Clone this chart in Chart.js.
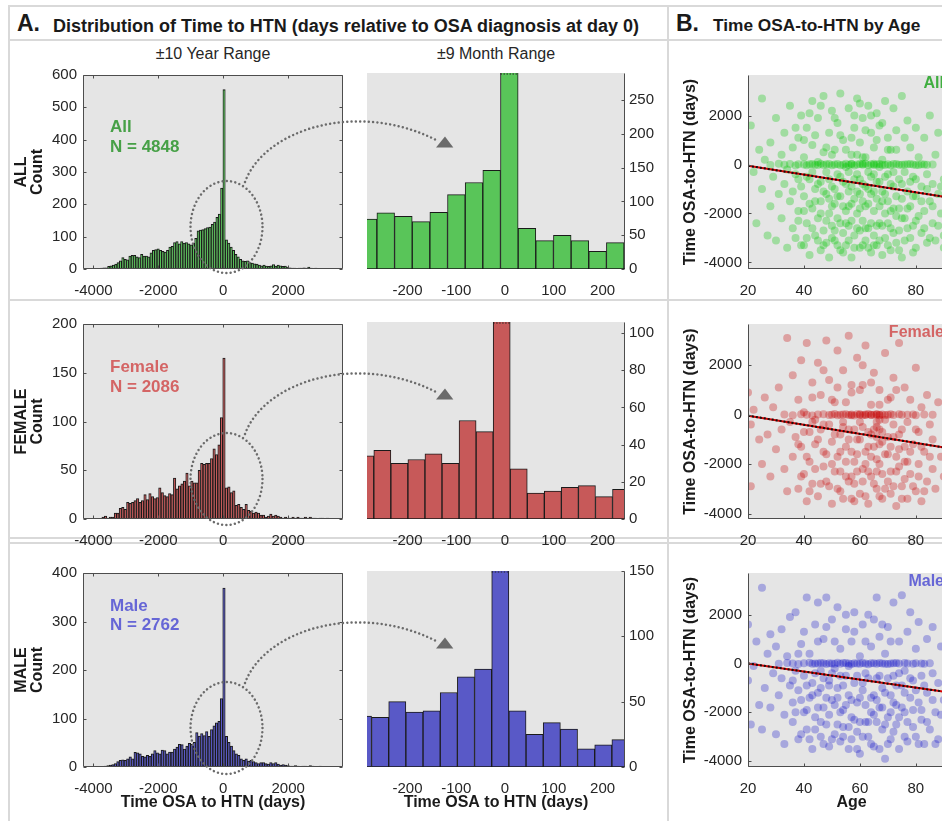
<!DOCTYPE html>
<html>
<head>
<meta charset="utf-8">
<title>Time to HTN</title>
<script src="https://cdn.jsdelivr.net/npm/chart.js@4.4.1/dist/chart.umd.min.js"></script>
<style>
  html, body { margin: 0; padding: 0; overflow: hidden; background: #fff; }
  body { width: 942px; height: 821px; position: relative; font-family: "Liberation Sans", Arial, sans-serif; color: #1a1a1a; }
  .ln { position: absolute; background: #d9d9d9; }
  .txt { position: absolute; white-space: nowrap; line-height: 1; }
  canvas { position: absolute; }
</style>
</head>
<body>
<!-- panel frames -->
<div class="ln" style="left:8px;top:5px;width:934px;height:2px"></div>
<div class="ln" style="left:8px;top:5px;width:2px;height:816px"></div>
<div class="ln" style="left:8px;top:39px;width:934px;height:2px"></div>
<div class="ln" style="left:667px;top:5px;width:2px;height:816px"></div>
<div class="ln" style="left:8px;top:299px;width:934px;height:2px"></div>
<div class="ln" style="left:8px;top:537px;width:934px;height:2px"></div>
<div class="ln" style="left:8px;top:542px;width:934px;height:2px"></div>

<div class="txt" style="left:17px;top:12px;font-size:23px;font-weight:bold">A.</div>
<div class="txt" style="left:53px;top:16.5px;font-size:18px;font-weight:bold">Distribution of Time to HTN (days relative to OSA diagnosis at day 0)</div>
<div class="txt" style="left:676px;top:12px;font-size:23px;font-weight:bold">B.</div>
<div class="txt" style="left:713px;top:17px;font-size:17.3px;font-weight:bold">Time OSA-to-HTN by Age</div>
<div class="txt" style="left:113px;top:46px;width:200px;text-align:center;font-size:16px;color:#262626">±10 Year Range</div>
<div class="txt" style="left:396px;top:46px;width:200px;text-align:center;font-size:16px;color:#262626">±9 Month Range</div>

<canvas id="wideAll"></canvas>
<canvas id="wideFem"></canvas>
<canvas id="wideMale"></canvas>
<canvas id="midAll"></canvas>
<canvas id="midFem"></canvas>
<canvas id="midMale"></canvas>
<canvas id="scAll"></canvas>
<canvas id="scFem"></canvas>
<canvas id="scMale"></canvas>
<canvas id="deco" style="z-index:5;pointer-events:none"></canvas>

<script>
// ---------- data ----------
// ±10 year histograms (bin counts, left to right)
const wideAllStart = -3997.5, wideAllWidth = 72.5;
const wideAll = [1,1,2,3,4,4,8,10,12,15, 20,25,35,30,28,40,42,42,38,35, 45,40,40,38,50,58,60,62,58,55,
  52,58,68,70,82,85,78,85,80,82, 78,75,80,95,118,120,122,125,128,130, 138,145,160,170,250,
  555,
  90,80,68,58,45,38,30,25,24,25, 20,18,16,15,12,10,12,9,8,10, 14,9,12,10,8,9,6,4,3,3,
  2,3,3,4,3,6,3,2,3,2, 2,1,2,1,1,1,0,1];

const wideFemStart = -3739, wideFemWidth = 76;
const wideFem = [2,3,1,2,2,6,6,11,12,10, 17,16,17,19,21,17,19,25,20,26, 23,21,22,32,27,24,23,26,25,42,
  31,34,36,39,47,34,39,37,37,50, 57,56,57,57,62,72,66,76,104,
  165,
  32,33,27,29,14,15,12,10,15,9, 8,6,7,6,4,4,2,3,5,3, 4,3,2,1,2,1,1,2,1,2, 1,1,2,1,2,1,1,0,1,1,0,1];

const wideMaleStart = -3815, wideMaleWidth = 76;
const wideMale = [1,1,2,3,4,5,7,11,14,15, 14,17,21,17,30,29,27,22,21,24, 22,27,34,29,27,35,34,27,31,31,
  37,41,47,46,37,43,49,47,51,71, 64,69,65,73,63,77,85,91,94,141,
  369,
  63,51,43,34,27,24,17,14,17,12, 14,11,9,7,9,9,7,6,9,7, 9,6,4,5,4,3,2,2,3,2, 1,2,2,1,3,2,1,1,2,1, 1,1,0,1];

// ±9 month histograms
const midAllStart = -298.9, midAllWidth = 36.2;
const midAll = [74,83,78,70,84,110,128,146,480,60,42,50,42,26,39,32];
const midFemStart = -304, midFemWidth = 34.96;
const midFem = [34,37,30,32,35,30,53,47,140,27,14,15,17,18,12,16];
const midMaleStart = -308.9, midMaleWidth = 35.2;
const midMale = [39,38,50,42,43,57,69,75,300,43,25,34,29,14,17,21];

// tick labels
const wideTicksX = [-4000, -2000, 0, 2000];
const midTicksX = [-200, -100, 0, 100, 200];
const wideAllTicksY = [0, 100, 200, 300, 400, 500, 600];
const wideFemTicksY = [0, 50, 100, 150, 200];
const wideMaleTicksY = [0, 100, 200, 300, 400];
const midAllTicksY = [0, 50, 100, 150, 200, 250];
const midFemTicksY = [0, 20, 40, 60, 80, 100];
const midMaleTicksY = [0, 50, 100, 150];
const ageTicks = [20, 40, 60, 80];
const daysTicks = [-4000, -2000, 0, 2000];

// age vs days (scatter) and fitted line end points
const scatterAll = [[21,1600],[22,-300],[23,-2400],[24,600],[25,2700],[25,-1000],[26,200],[27,-2900],[28,-1700],[28,900],
  [29,-500],[30,1900],[30,-3100],[31,-1200],[32,400],[32,-2200],[33,-800],[33,1300],[34,-3400],[34,-200],
  [35,2400],[35,-1500],[36,-2600],[36,700],[37,-400],[37,-3000],[38,1100],[38,-1900],[39,-900],[39,2000],
  [40,-3300],[40,-1300],[40,300],[41,-2400],[41,1500],[42,-600],[42,-3700],[43,-1800],[43,800],[43,2600],
  [44,-2900],[44,-1000],[45,100],[45,-2200],[45,1900],[46,-3500],[46,-700],[46,-1500],[47,2800],[47,-2700],
  [47,500],[48,-1200],[48,-3200],[48,-300],[49,1300],[49,-2000],[49,-3800],[50,-900],[50,2200],[50,-2500],
  [51,-1600],[51,600],[51,-3100],[52,-400],[52,1700],[52,-2200],[53,-1300],[53,-3500],[53,2900],[54,-700],
  [54,-2800],[54,1000],[55,-1900],[55,-100],[55,-3300],[56,2300],[56,-1100],[56,-2500],[57,400],[57,-3800],
  [57,-1600],[58,1500],[58,-600],[58,-2900],[59,-2000],[59,2700],[59,-400],[60,-3400],[60,-1200],[60,900],
  [61,-2300],[61,1900],[61,-800],[62,-3100],[62,-1700],[62,300],[63,2400],[63,-2600],[63,-1000],[64,-3600],
  [64,-500],[64,1300],[65,-1900],[65,-2900],[65,700],[66,-1400],[66,2100],[66,-3300],[67,-700],[67,-2400],
  [67,1600],[68,-3700],[68,-1100],[68,200],[69,-2000],[69,2600],[69,-3000],[70,-1500],[70,-400],[70,1100],
  [71,-2600],[71,-3500],[71,600],[72,-1800],[72,2300],[72,-900],[73,-3200],[73,-2100],[73,1400],[74,-600],
  [74,-2700],[75,2800],[75,-1400],[75,-3800],[76,-300],[76,-2200],[77,1800],[77,-1100],[78,-3000],[78,-1700],
  [78,700],[79,-2500],[79,-500],[80,1500],[80,-3400],[80,-1300],[81,-2100],[81,300],[82,-2800],[82,-900],
  [83,1100],[83,-1900],[84,-3200],[84,-400],[85,-1500],[85,2000],[86,-2400],[86,-800],[87,-3100],[87,400],
  [88,-1200],[88,1300],[89,-2000],[90,-600],[90,-2900],[91,800],[92,-1700],[93,-300],
  [36,-1100],[37,1500],[38,-2300],[38,-600],[39,-3300],[40,-1900],[40,1000],[41,-500],[41,-3000],[42,-1600],
  [42,2100],[43,-2600],[43,-300],[44,-1500],[44,1200],[45,-3100],[45,-800],[46,-2000],[46,2400],[47,-1100],
  [47,-3300],[48,-2300],[48,700],[49,-1400],[49,-600],[50,-3000],[50,-1700],[50,400],[51,-2700],[51,-1000],
  [51,1900],[52,-3300],[52,-1300],[53,-2400],[53,-500],[53,1200],[54,-1700],[54,-3600],[55,-2400],[55,600],
  [55,-800],[56,-3100],[56,-1700],[56,-300],[57,-2300],[57,1100],[57,-900],[58,-3400],[58,-1400],[58,2000],
  [59,-2600],[59,-1100],[59,400],[60,-2700],[60,-1800],[60,-600],[60,2500],[61,-3300],[61,-1500],[61,300],
  [62,-2600],[62,-900],[62,1400],[63,-3400],[63,-1600],[63,-300],[64,-2400],[64,-1200],[64,2000],[65,-3300],
  [65,-1100],[65,-400],[66,-2500],[66,-700],[66,1000],[67,-3100],[67,-1700],[67,-100],[68,-2500],[68,-1500],
  [68,1700],[69,-1200],[69,-500],[70,-3300],[70,-2400],[70,600],[71,-1900],[71,-800],[72,-2800],[72,-300],
  [73,-1300],[73,600],[74,-3500],[74,-1800],[75,-2200],[75,-800],[76,-3100],[76,1100],[77,-2600],[77,-1800],
  [78,-700],[79,-3600],[79,-1300],[80,-2300],[80,-600],[82,-1500],[83,-2600],[84,-1000],[85,-3000],[86,-1700],
  [88,-2500],[89,-900],[90,-3400],[91,-1300],
  [28,-20],[31,30],[33,-10],[35,20],[37,-40],[38,10],[40,0],[41,-30],[43,20],[44,-10],[46,30],[47,-20],
  [48,10],[50,-30],[51,0],[52,20],[54,-10],[55,30],[56,-20],[57,10],[58,-40],[59,0],[60,20],[61,-10],
  [62,30],[63,-30],[64,10],[65,-20],[66,0],[67,20],[68,-10],[70,10],[71,-30],[73,20],[74,-10],[76,0],
  [78,20],[80,-20],[82,10],[84,-10],[86,0],[42,10],[45,-20],[49,20],[53,-30],[57,30],[61,20],[65,30],
  [69,-20],[72,20],[75,-10],[77,10],[79,0],[81,-20],[83,0]];
const fitAll = [[20, -50], [94, -1390]];

const scatterFem = [[20,900],[21,-400],[21,-2900],[22,200],[24,-1000],[25,-2000],[26,700],[27,-800],[28,-2500],[29,300],
  [30,-1400],[31,1100],[32,-600],[33,-2200],[34,3100],[34,-3100],[35,-300],[36,1600],[36,-1700],[37,-900],
  [38,-3000],[38,600],[39,2200],[39,-1300],[40,-2400],[40,100],[41,-3500],[41,2900],[42,-700],[42,-1900],
  [43,1300],[43,-2800],[44,-200],[44,-1200],[45,2100],[45,-3300],[46,-600],[46,800],[47,-2100],[47,-1500],
  [48,3000],[48,-2700],[49,-400],[49,1400],[50,-3600],[50,-1100],[51,500],[51,-2300],[52,2600],[52,-1700],
  [53,-800],[53,-3100],[54,1800],[54,-300],[55,-2500],[55,-1300],[56,3200],[56,-600],[57,-3400],[57,900],
  [58,-1900],[58,-2800],[59,2300],[59,-1000],[60,-300],[60,-3200],[61,1200],[61,-2200],[62,-1500],[62,2800],
  [63,-700],[63,-3600],[64,400],[64,-2500],[65,-1300],[65,1700],[66,-3000],[66,-500],[67,1000],[67,-2000],
  [68,-3400],[68,-1100],[69,2500],[69,-200],[70,-2700],[70,-1600],[71,700],[71,-3200],[72,-900],[72,1500],
  [73,-2300],[73,-3700],[74,2900],[74,-1400],[75,-600],[75,-2900],[76,1100],[76,-1900],[77,-3400],[77,-300],
  [78,600],[78,-2400],[79,-1200],[80,-3100],[80,1900],[81,-700],[81,-2000],[82,300],[82,-3500],[83,-1500],
  [84,-2700],[84,800],[85,-400],[86,-2200],[86,-1000],[87,-3000],[88,500],[89,-1700],[90,-2500],[91,-600],[93,-1900],
  [38,-1200],[39,-2500],[40,-700],[41,-1700],[42,-3100],[43,-300],[44,-2200],[45,-1000],[46,-2800],[47,-400],
  [48,-1600],[49,-2900],[50,-2000],[50,600],[51,-800],[52,-3000],[53,-1500],[53,-2300],[54,-500],[54,-3400],
  [55,-1900],[55,500],[56,-2700],[56,-1000],[57,-1500],[57,-2500],[58,-600],[58,-3500],[59,-1600],[59,-2300],
  [60,-1000],[60,1000],[61,-2700],[61,-500],[62,-2000],[62,-3300],[63,-1300],[63,-2300],[64,-800],[64,-1700],
  [65,-2800],[65,-600],[66,-1800],[66,-2300],[67,-1200],[67,-3300],[68,-700],[68,-2400],[69,-1600],[69,-3000],
  [70,-900],[70,600],[71,-2300],[71,-1300],[72,-2900],[72,-400],[73,-1700],[74,-2100],[74,-800],[75,-3400],
  [76,-1300],[76,-2600],[77,-1900],[78,-1500],[79,-2900],[80,-600],[81,-2500],[82,-1300],[83,-3100],[85,-1700],
  [57,1200],[61,2000],[64,1300],[52,1100],[47,1800],[43,700],[67,400],[73,1000],
  [33,10],[36,-20],[39,20],[41,0],[43,-30],[45,10],[47,20],[49,-10],[51,30],[52,-20],[53,0],[55,20],
  [56,-10],[57,10],[58,-30],[59,20],[60,0],[61,-20],[62,10],[63,30],[64,-10],[65,0],[66,20],[67,-20],
  [68,10],[70,0],[72,-10],[74,20],[77,0],[80,-20],[83,10],[86,0],[66,-300],[67,-600],[66,-900],[67,-200],
  [50,0],[54,10],[57,-20],[60,20],[62,-10],[64,0],[66,10],[67,0],[69,-10],[71,20],[75,0],[79,10]];
const fitFem = [[20, -40], [94, -1400]];

const scatterMale = [[20,1600],[20,-700],[21,-2500],[22,-100],[23,900],[24,-1700],[25,3100],[25,-2700],[26,-1000],[27,400],
  [28,-1800],[28,1200],[29,-400],[30,-2900],[30,700],[31,-1300],[32,-600],[32,1400],[33,-2100],[33,-3300],
  [34,300],[35,-900],[35,1900],[36,-2400],[36,-1600],[37,2100],[37,-300],[38,-3100],[38,-1100],[39,800],
  [40,-2000],[40,-500],[41,2700],[41,-2700],[42,-1400],[42,400],[43,-3500],[43,-800],[44,1600],[44,-2200],
  [45,-1200],[45,2500],[46,-3000],[46,-300],[47,1000],[47,-1800],[48,2700],[48,-2500],[49,-700],[49,-3400],
  [50,1800],[50,-1500],[51,-200],[51,-2900],[52,2300],[52,-1000],[53,-3200],[53,600],[54,-1900],[54,-2600],
  [55,1400],[55,-500],[56,-3500],[56,-1300],[57,900],[57,-2200],[58,2100],[58,-800],[59,-2800],[59,-1600],
  [60,300],[60,-3700],[61,1600],[61,-1100],[62,-2400],[62,-400],[63,2000],[63,-3000],[64,-1400],[64,700],
  [65,-2100],[65,-3400],[66,2700],[66,-600],[67,-1800],[67,1100],[68,-2700],[68,-1000],[69,-3900],[69,400],
  [70,-2200],[70,1500],[71,-1300],[71,-3100],[72,-500],[72,2500],[73,-2500],[73,-1700],[74,900],[74,-3500],
  [75,-900],[75,2800],[76,-2000],[76,-300],[77,1300],[77,-3200],[78,-1400],[78,2100],[79,-2600],[79,-700],
  [80,600],[80,-3000],[81,-1600],[81,1700],[82,-2300],[82,-500],[83,-3300],[84,1000],[84,-1200],[85,-2700],
  [86,-400],[86,1500],[87,-2000],[88,-3100],[88,-800],[89,700],[90,-1500],[91,-2400],[92,-200],[93,-1100],
  [36,-700],[37,-2000],[38,400],[39,-1500],[39,-2900],[40,1300],[41,-900],[41,-1900],[42,-3100],[43,-1300],
  [44,-400],[44,-2700],[45,900],[45,-1800],[46,-1000],[46,-2400],[47,-3300],[47,-600],[48,-1400],[48,1500],
  [49,-2100],[49,-900],[50,-3100],[50,-400],[51,-1700],[51,900],[52,-2500],[52,-1400],[53,-500],[53,-2000],
  [54,-3000],[54,-900],[55,-1700],[55,2000],[56,-2600],[56,-100],[57,-1500],[57,-3100],[58,-2300],[58,1300],
  [59,-500],[59,-3500],[60,-1400],[60,-2400],[61,-800],[61,-3000],[62,-1700],[62,900],[63,-2400],[63,-600],
  [64,-3300],[64,-2000],[65,-1300],[65,1800],[66,-2400],[66,-1500],[67,-500],[67,-3500],[68,-1800],[68,1600],
  [69,-2500],[69,-1200],[70,-600],[70,-3300],[71,-2000],[71,900],[72,-1600],[72,-2800],[73,-900],[74,-2200],
  [74,-400],[75,-1800],[76,-3000],[76,-1200],[77,-2400],[78,-600],[79,-1900],[80,-1100],[81,-3300],[82,-1900],
  [83,-900],[84,-2400],[86,-1500],[87,-3300],[89,-2100],
  [31,-10],[34,20],[36,0],[38,-20],[40,10],[42,30],[43,-10],[45,0],[46,20],[48,-20],[49,10],[50,0],
  [52,30],[53,-10],[55,20],[56,0],[57,-20],[58,10],[60,-10],[61,20],[62,0],[63,-30],[65,10],[66,-10],
  [67,20],[68,0],[70,-20],[72,10],[74,0],[76,20],[79,-10],[82,0],[85,10],
  [44,0],[47,10],[51,-10],[54,20],[59,0],[64,10],[69,-10],[71,0],[73,20],[77,0],[80,10],[83,-10]];
const fitMale = [[20, 0], [94, -1220]];

// ---------- drawing ----------
Chart.defaults.font.family = '"Liberation Sans", Arial, sans-serif';
Chart.defaults.font.size = 15;
Chart.defaults.color = '#262626';

const axisColor = '#4d4d4d';
const plotTop = [70, 319, 568];
const plotH = [199, 200, 199];
const titleFont = { size: 16, weight: 'bold', lineHeight: 1.2 };
const noGrid = { display: false, drawTicks: false };
const plain = v => String(v);

const bgPlugin = {
  id: 'plotbg',
  beforeDatasetsDraw(chart) {
    const a = chart.chartArea, c = chart.ctx;
    c.save();
    c.fillStyle = '#e5e5e5';
    c.fillRect(a.left, a.top, a.right - a.left, a.bottom - a.top);
    c.restore();
  }
};

// box lines, inward ticks, clipped-bar marks and in-plot labels
const framePlugin = {
  id: 'frame',
  afterDatasetsDraw(chart, args, o) {
    const a = chart.chartArea, c = chart.ctx;
    const xs = chart.scales.x, ys = chart.scales.y;
    const L = Math.round(a.left) + 0.5, R = Math.round(a.right) - 0.5;
    const T = Math.round(a.top) + 0.5, B = Math.round(a.bottom) - 0.5;
    const s = o.sides || '';
    c.save();
    c.strokeStyle = axisColor;
    c.lineWidth = 1;
    c.beginPath();
    if (s.includes('L')) { c.moveTo(L, T); c.lineTo(L, B); }
    if (s.includes('R')) { c.moveTo(R, T); c.lineTo(R, B); }
    if (s.includes('T')) { c.moveTo(L, T); c.lineTo(R, T); }
    if (s.includes('B')) { c.moveTo(L, B); c.lineTo(R, B); }
    for (const t of xs.ticks) {
      const p = Math.round(xs.getPixelForValue(t.value)) + 0.5;
      if (s.includes('B')) { c.moveTo(p, B); c.lineTo(p, B - 3); }
      if (s.includes('T')) { c.moveTo(p, T); c.lineTo(p, T + 3); }
    }
    for (const t of ys.ticks) {
      const p = Math.round(ys.getPixelForValue(t.value)) + 0.5;
      if (s.includes('L')) { c.moveTo(L, p); c.lineTo(L + 3, p); }
      if (s.includes('R')) { c.moveTo(R, p); c.lineTo(R - 3, p); }
    }
    c.stroke();
    if (o.clipMarks) {
      c.setLineDash([1.5, 1.5]);
      c.strokeStyle = '#222';
      c.beginPath();
      chart.getDatasetMeta(0).data.forEach((el, i) => {
        if (chart.data.datasets[0].data[i].y > ys.max) {
          c.moveTo(el.x - el.width / 2, T + 0.5); c.lineTo(el.x + el.width / 2, T + 0.5);
        }
      });
      c.stroke();
    }
    for (const lb of o.labels || []) {
      c.font = lb.font;
      c.fillStyle = lb.color;
      c.textAlign = lb.ax;
      c.textBaseline = 'alphabetic';
      c.fillText(lb.text, (lb.ax === 'left' ? a.left : a.right) + lb.dx, a.top + lb.dy);
    }
    c.restore();
  }
};

function place(id, left, top, w, h) {
  const cv = document.getElementById(id);
  cv.width = w; cv.height = h;
  cv.style.left = left + 'px'; cv.style.top = top + 'px';
  cv.style.width = w + 'px'; cv.style.height = h + 'px';
  return cv;
}

function tickSetter(list) {
  return s => { s.ticks = list.map(v => ({ value: v })); };
}

function histChart(id, row, o) {
  const top = plotTop[row] - 10;
  const h = row === 2 ? 821 - top : 10 + plotH[row] + 26;
  const xh = h - 10 - plotH[row];
  const cv = place(id, o.left, top, o.width, h);
  const data = o.counts.map((v, i) => ({ x: o.start + o.bin * (i + 0.5), y: v }));
  return new Chart(cv, {
    type: 'bar',
    data: {
      datasets: [{
        data,
        backgroundColor: o.color,
        borderColor: '#1a1a1a',
        borderWidth: o.bw,
        borderSkipped: false,
        barPercentage: 1,
        categoryPercentage: 1,
        clip: 0
      }]
    },
    options: {
      responsive: false,
      animation: false,
      events: [],
      layout: { padding: { top: 10, left: o.padL, right: o.padR, bottom: 0 } },
      plugins: { legend: { display: false }, tooltip: { enabled: false }, frame: o.frame },
      scales: {
        x: {
          type: 'linear', offset: false, min: o.xmin, max: o.xmax,
          grid: noGrid, border: { display: false },
          afterBuildTicks: tickSetter(o.xticks),
          afterFit: s => { s.height = xh; },
          ticks: { padding: 13, maxRotation: 0, autoSkip: false, callback: plain },
          title: { display: row === 2, text: 'Time OSA to HTN (days)', font: titleFont, color: '#1a1a1a', padding: { top: 0, bottom: 9 } }
        },
        y: {
          position: o.ypos, min: 0, max: o.ymax,
          grid: noGrid, border: { display: false },
          afterBuildTicks: tickSetter(o.yticks),
          afterFit: s => { s.width = o.yw; },
          ticks: { padding: o.ypad, callback: plain },
          title: o.ytitle
            ? { display: true, text: o.ytitle, font: { size: 16, weight: 'bold', lineHeight: 1 }, color: '#1a1a1a', padding: { top: 4, bottom: 0 } }
            : { display: false }
        }
      }
    },
    plugins: [bgPlugin, framePlugin]
  });
}

function scatterChart(id, row, o) {
  const top = plotTop[row] - 10;
  const h = row === 2 ? 821 - top : 10 + plotH[row] + 26;
  const xh = h - 10 - plotH[row];
  const cv = place(id, 670, top, 290, h);
  const pts = o.points.map(p => ({ x: p[0], y: p[1] }));
  const fit = o.fit.map(p => ({ x: p[0], y: p[1] }));
  return new Chart(cv, {
    type: 'scatter',
    data: {
      datasets: [
        { type: 'line', data: fit, borderColor: '#111', borderWidth: 2, borderDash: [2, 2], pointRadius: 0 },
        { type: 'line', data: fit, borderColor: '#d80000', borderWidth: 2, pointRadius: 0 },
        { data: pts, backgroundColor: o.color, borderWidth: 0, pointRadius: 4 }
      ]
    },
    options: {
      responsive: false,
      animation: false,
      events: [],
      layout: { padding: { top: 10, left: 0, right: 5, bottom: 0 } },
      plugins: {
        legend: { display: false }, tooltip: { enabled: false },
        frame: { sides: 'LB', labels: [{ text: o.label, color: o.labelColor, font: 'bold 16px "Liberation Sans", Arial, sans-serif', ax: 'right', dx: -11, dy: 12.5 }] }
      },
      scales: {
        x: {
          type: 'linear', min: 20, max: 94,
          grid: noGrid, border: { display: false },
          afterBuildTicks: tickSetter(ageTicks),
          afterFit: s => { s.height = xh; },
          ticks: { padding: 13, maxRotation: 0, autoSkip: false, callback: plain },
          title: { display: row === 2, text: 'Age', font: titleFont, color: '#1a1a1a', padding: { top: 0, bottom: 9 } }
        },
        y: {
          min: o.ymin, max: o.ymax,
          grid: noGrid, border: { display: false },
          afterBuildTicks: tickSetter(daysTicks),
          afterFit: s => { s.width = 78; },
          ticks: { padding: 6, callback: plain },
          title: { display: true, text: 'Time OSA-to-HTN (days)', font: titleFont, color: '#1a1a1a', padding: { top: 11, bottom: 0 } }
        }
      }
    },
    plugins: [bgPlugin, framePlugin]
  });
}

const labFont = 'bold 17px "Liberation Sans", Arial, sans-serif';
const wideBase = { left: 10, width: 336, padL: 0, padR: 3, xmin: -4320, xmax: 3690, xticks: wideTicksX, ypos: 'left', yw: 73, ypad: 6, bw: 1 };
const midBase = { left: 360, width: 300, padL: 7, padR: 0, xmin: -283, xmax: 246, xticks: midTicksX, ypos: 'right', yw: 35, ypad: 4, bw: 1 };

histChart('wideAll', 0, Object.assign({}, wideBase, {
  counts: wideAll, start: wideAllStart, bin: wideAllWidth, color: '#59c559', ymax: 600, yticks: wideAllTicksY, ytitle: ['ALL', 'Count'],
  frame: { sides: 'LRTB', labels: [
    { text: 'All', color: '#47a047', font: labFont, ax: 'left', dx: 27, dy: 57 },
    { text: 'N = 4848', color: '#47a047', font: labFont, ax: 'left', dx: 27, dy: 76.5 }] }
}));
histChart('wideFem', 1, Object.assign({}, wideBase, {
  counts: wideFem, start: wideFemStart, bin: wideFemWidth, color: '#c75959', ymax: 200, yticks: wideFemTicksY, ytitle: ['FEMALE', 'Count'],
  frame: { sides: 'LRTB', labels: [
    { text: 'Female', color: '#d46565', font: labFont, ax: 'left', dx: 27, dy: 48 },
    { text: 'N = 2086', color: '#d46565', font: labFont, ax: 'left', dx: 27, dy: 67.5 }] }
}));
histChart('wideMale', 2, Object.assign({}, wideBase, {
  counts: wideMale, start: wideMaleStart, bin: wideMaleWidth, color: '#5959c7', ymax: 400, yticks: wideMaleTicksY, ytitle: ['MALE', 'Count'],
  frame: { sides: 'LRTB', labels: [
    { text: 'Male', color: '#6666d6', font: labFont, ax: 'left', dx: 27, dy: 37.5 },
    { text: 'N = 2762', color: '#6666d6', font: labFont, ax: 'left', dx: 27, dy: 57 }] }
}));

histChart('midAll', 0, Object.assign({}, midBase, {
  counts: midAll, start: midAllStart, bin: midAllWidth, color: '#59c559', ymax: 290, yticks: midAllTicksY,
  frame: { sides: 'R', clipMarks: true }
}));
histChart('midFem', 1, Object.assign({}, midBase, {
  counts: midFem, start: midFemStart, bin: midFemWidth, color: '#c75959', ymax: 106, yticks: midFemTicksY,
  frame: { sides: 'R', clipMarks: true }
}));
histChart('midMale', 2, Object.assign({}, midBase, {
  counts: midMale, start: midMaleStart, bin: midMaleWidth, color: '#5959c7', ymax: 150, yticks: midMaleTicksY,
  frame: { sides: 'R', clipMarks: true }
}));

scatterChart('scAll', 0, { points: scatterAll, fit: fitAll, color: 'rgba(0,200,0,0.3)', ymin: -4270, ymax: 3660, label: 'All', labelColor: '#3fae3f' });
scatterChart('scFem', 1, { points: scatterFem, fit: fitFem, color: 'rgba(200,0,0,0.3)', ymin: -4222, ymax: 3671, label: 'Female', labelColor: '#d46565' });
scatterChart('scMale', 2, { points: scatterMale, fit: fitMale, color: 'rgba(0,0,200,0.27)', ymin: -4240, ymax: 3707, label: 'Male', labelColor: '#6666d6' });

// dotted zoom-in ellipse and arrow, one per row
const deco = place('deco', 0, 0, 942, 821);
const g = deco.getContext('2d');
g.strokeStyle = '#6b6b6b';
g.fillStyle = '#6b6b6b';
g.lineWidth = 2.5;
g.lineCap = 'round';
for (const off of [0, 252, 501]) {
  g.setLineDash([0.01, 4.3]);
  g.beginPath();
  g.ellipse(226.5, 227 + off, 36, 46, 0, 0, Math.PI * 2);
  g.stroke();
  g.beginPath();
  g.moveTo(245, 182 + off);
  g.bezierCurveTo(265, 128 + off, 360, 100 + off, 438, 141 + off);
  g.stroke();
  g.setLineDash([]);
  g.beginPath();
  g.moveTo(453.3, 147.5 + off);
  g.lineTo(436, 147.5 + off);
  g.lineTo(445, 136.5 + off);
  g.closePath();
  g.fill();
}
</script>
</body>
</html>
